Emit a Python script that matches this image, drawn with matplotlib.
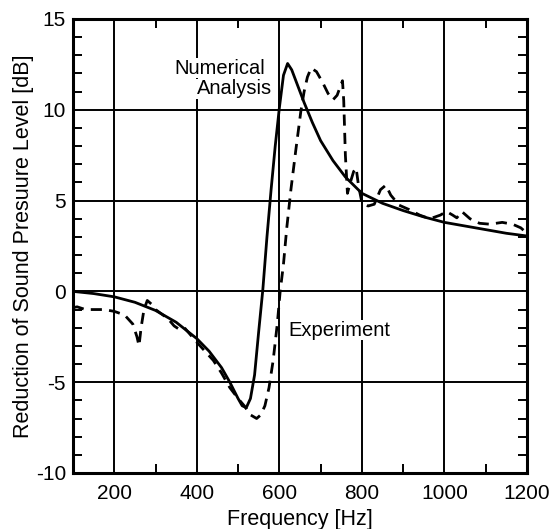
import numpy as np
import matplotlib
matplotlib.use("Agg")
import matplotlib.pyplot as plt
from matplotlib.ticker import MultipleLocator

plt.rcParams['font.family'] = ['Liberation Sans', 'DejaVu Sans']
plt.rcParams['axes.unicode_minus'] = False

# numerical analysis (solid)
freq_num = [100, 150, 200, 250, 300, 350, 400, 430, 460, 480, 500, 510, 520,
            530, 540, 550, 560, 570, 580, 590, 600, 610, 620, 630, 640, 650,
            660, 680, 700, 730, 760, 800, 850, 900, 950, 1000, 1050, 1100,
            1150, 1200]
spl_num = [0.0, -0.12, -0.3, -0.6, -1.05, -1.7, -2.6, -3.3, -4.2, -5.0, -5.9,
           -6.3, -6.4, -5.9, -4.6, -2.2, 0.1, 3.0, 5.6, 8.0, 10.1, 11.9, 12.55,
           12.2, 11.6, 11.0, 10.4, 9.3, 8.3, 7.2, 6.3, 5.4, 4.85, 4.45, 4.1,
           3.8, 3.6, 3.4, 3.2, 3.05]

# experiment (dashed)
freq_exp = [100, 110, 130, 150, 175, 200, 225, 245, 255, 260, 265, 272, 280,
            290, 300, 315, 330, 345, 358, 370, 385, 400, 420, 440, 460, 480,
            500, 515, 530, 545, 555, 565, 575, 585, 595, 602, 610, 618, 628,
            640, 652, 660, 668, 677, 690, 705, 718, 730, 740, 748, 753, 756,
            760, 765, 772, 780, 786, 792, 800, 815, 830, 845, 858, 870, 890,
            915, 940, 965, 990, 1005, 1020, 1030, 1042, 1062, 1085, 1110, 1140,
            1165, 1185, 1200]
spl_exp = [-0.9, -0.85, -1.0, -1.0, -1.0, -1.1, -1.3, -1.8, -2.5, -3.0, -2.0,
           -1.0, -0.5, -0.7, -1.0, -1.25, -1.5, -1.9, -2.1, -2.0, -2.4, -2.8,
           -3.3, -3.8, -4.5, -5.3, -5.9, -6.3, -6.8, -7.0, -6.8, -6.3, -5.3,
           -3.8, -1.8, 0.0, 1.5, 3.5, 5.6, 7.8, 9.9, 11.0, 11.8, 12.3, 12.1,
           11.5, 10.9, 10.55, 10.8, 11.3, 11.6, 10.5, 7.5, 5.4, 6.0, 6.6, 6.8,
           5.8, 4.9, 4.7, 4.8, 5.6, 5.85, 5.3, 4.75, 4.5, 4.2, 4.0, 4.2, 4.4,
           4.2, 4.05, 4.4, 4.0, 3.75, 3.7, 3.8, 3.7, 3.5, 3.2]

fig = plt.figure(figsize=(5.58, 5.29), dpi=100)
ax = fig.add_axes([0.1308, 0.1059, 0.8136, 0.8582])

ax.plot(freq_num, spl_num, color='black', lw=2.0, zorder=3)
ax.plot(freq_exp, spl_exp, color='black', lw=2.0, linestyle=(0, (4.0, 2.6)), zorder=3)

ax.set_xlim(100, 1200)
ax.set_ylim(-10, 15)
ax.xaxis.set_major_locator(MultipleLocator(200))
ax.xaxis.set_minor_locator(MultipleLocator(100))
ax.yaxis.set_major_locator(MultipleLocator(5))
ax.yaxis.set_minor_locator(MultipleLocator(1))
ax.grid(True, which='major', color='black', lw=1.4)
ax.set_axisbelow(True)

ax.tick_params(which='both', direction='in', top=True, right=True,
               width=1.4, labelsize=15)
ax.tick_params(which='major', length=0, pad=8)
ax.tick_params(which='minor', length=6.5)
ax.tick_params(axis='y', which='major', pad=5)
for s in ax.spines.values():
    s.set_linewidth(2.2)

ax.set_xlabel('Frequency [Hz]', fontsize=15.5, labelpad=4)
ax.set_ylabel('Reduction of Sound Presuure Level [dB]', fontsize=15.5, labelpad=1)

box = dict(facecolor='white', edgecolor='none', pad=0.5)
ax.text(565, 12.3, 'Numerical', ha='right', va='center', fontsize=14.5, bbox=box, zorder=2)
ax.text(582, 11.15, 'Analysis', ha='right', va='center', fontsize=14.5, bbox=box, zorder=2)
ax.text(621, -2.13, 'Experiment', ha='left', va='center', fontsize=14.5, bbox=box, zorder=2)

fig.savefig('out.png', dpi=100)
